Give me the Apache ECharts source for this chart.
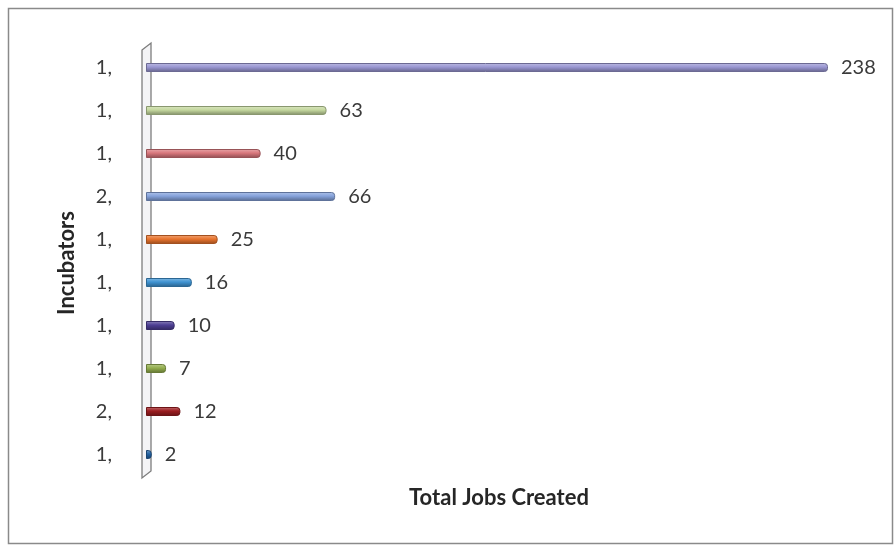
<!DOCTYPE html>
<html>
<head>
<meta charset="utf-8">
<script src="https://cdn.jsdelivr.net/npm/echarts@6/dist/echarts.min.js"></script>
<style>
  html, body { margin: 0; padding: 0; background: #ffffff; }
  #chart { width: 895px; height: 547px; }
</style>
</head>
<body>
<div id="chart"></div>
<script>
// Incubator labels, top to bottom
const categories = ['1,', '1,', '1,', '2,', '1,', '1,', '1,', '1,', '2,', '1,'];
// Total jobs created per incubator
const jobs = [238, 63, 40, 66, 25, 16, 10, 7, 12, 2];
// Bar colours, one per incubator
const barColors = ['#9a97d2', '#c4d79e', '#d9777c', '#86a3dc', '#e8742e',
                   '#3f93d2', '#4d3f94', '#93ae4e', '#9c1d20', '#2463a3'];

const FONT = 'Lato, "Open Sans", sans-serif';

function shade(hex, f) {
  const n = parseInt(hex.slice(1), 16);
  let r = (n >> 16) & 255, g = (n >> 8) & 255, b = n & 255;
  const mix = (c) => f >= 0 ? Math.round(c + (255 - c) * f) : Math.round(c * (1 + f));
  return 'rgb(' + mix(r) + ',' + mix(g) + ',' + mix(b) + ')';
}

const chart = echarts.init(document.getElementById('chart'), null, { renderer: 'canvas' });

const grid = { left: 146, top: 46, width: 682, height: 430 };

chart.setOption({
  backgroundColor: '#ffffff',
  animation: false,
  grid: grid,
  xAxis: {
    type: 'value', min: 0, max: 238, show: false
  },
  yAxis: {
    type: 'category',
    data: categories,
    inverse: true,
    axisLine: { show: false },
    axisTick: { show: false },
    axisLabel: { margin: 34, fontSize: 20, color: '#3a3a3a', fontFamily: FONT }
  },
  series: [{
    type: 'bar',
    barWidth: 9,
    data: jobs.map((v, i) => ({
      value: v,
      itemStyle: {
        color: new echarts.graphic.LinearGradient(0, 0, 0, 1, [
          { offset: 0, color: shade(barColors[i], 0.35) },
          { offset: 0.45, color: barColors[i] },
          { offset: 1, color: shade(barColors[i], -0.35) }
        ]),
        borderColor: shade(barColors[i], -0.3),
        borderWidth: 1,
        borderRadius: [0, 3, 3, 0]
      }
    })),
    label: {
      show: true, position: 'right', distance: 13,
      fontSize: 20, color: '#3a3a3a', fontFamily: FONT
    }
  }]
});

// Frame, 3-D wall and axis titles, placed relative to the grid
const x0 = chart.convertToPixel({ xAxisIndex: 0 }, 0);
const yTop = grid.top, yBot = grid.top + grid.height;
const wallColor = '#7d7d7d';
chart.setOption({
  graphic: [
    {
      type: 'rect', silent: true,
      shape: { x: 8.5, y: 8.5, width: 884, height: 535 },
      style: { fill: 'none', stroke: '#8a8a8a', lineWidth: 1.5 }
    },
    {
      type: 'polygon', silent: true, z: -1,
      shape: { points: [[x0 - 4, yTop + 4], [x0 + 5, yTop - 3], [x0 + 5, yBot - 5], [x0 - 4, yBot + 2]] },
      style: { fill: '#f4f4f6', stroke: wallColor, lineWidth: 1.3 }
    },
    {
      type: 'text', silent: true,
      x: 67, y: 263, rotation: Math.PI / 2,
      style: {
        text: 'Incubators', fontSize: 22, fontWeight: 'bold', fontFamily: FONT,
        fill: '#262626', align: 'center', verticalAlign: 'middle'
      }
    },
    {
      type: 'text', silent: true,
      x: 499, y: 498,
      style: {
        text: 'Total Jobs Created', fontSize: 22, fontWeight: 'bold', fontFamily: FONT,
        fill: '#262626', align: 'center', verticalAlign: 'middle'
      }
    }
  ]
});
</script>
</body>
</html>
